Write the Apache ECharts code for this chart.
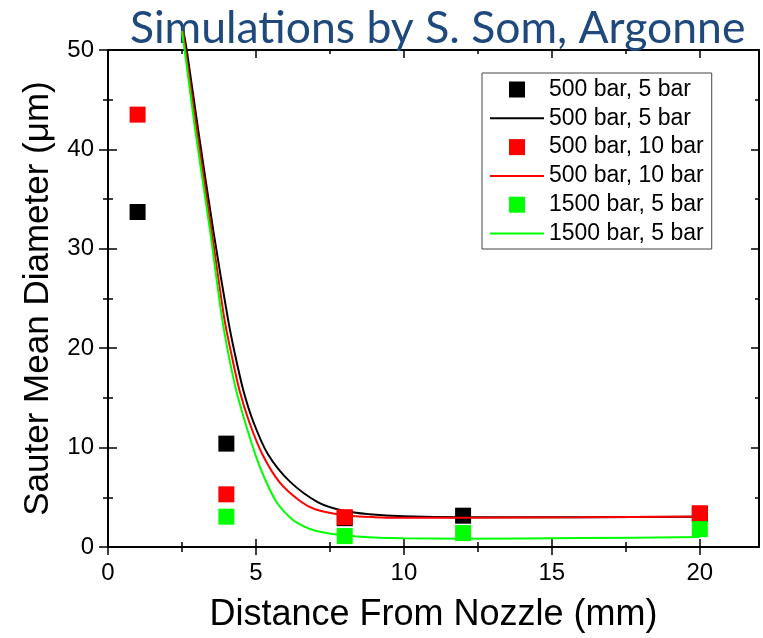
<!DOCTYPE html>
<html>
<head>
<meta charset="utf-8">
<script src="https://cdn.jsdelivr.net/npm/echarts@6/dist/echarts.min.js"></script>
<style>
  html, body { margin: 0; padding: 0; background: #fff; }
  #chart { width: 763px; height: 638px; }
</style>
</head>
<body>
<div id="chart"></div>
<script>
// Measured droplet size (squares) by case
const blackPoints = [[1, 33.7], [4, 10.4], [8, 2.9], [12, 3.15], [20, 3.3]];
const redPoints   = [[1, 43.5], [4, 5.3], [8, 3.0], [20, 3.4]];
const greenPoints = [[4, 3.05], [8, 1.1], [12, 1.4], [20, 1.8]];

// Fitted decay curves
const blackCurve = [[2.55, 51.9], [2.66, 50], [3.05, 41.9], [3.56, 31.8], [4.05, 23.0], [4.29, 19.4],
  [4.57, 15.8], [4.91, 12.6], [5.41, 9.3], [6.14, 6.6], [7.1, 4.5], [8, 3.62], [8.84, 3.3],
  [10, 3.1], [12, 3.0], [16, 3.0], [20, 3.05]];
const redCurve = [[2.53, 51.9], [2.62, 50], [3.0, 41.9], [3.5, 31.8], [3.93, 23.0], [4.17, 19.4],
  [4.44, 15.8], [4.77, 12.6], [5.22, 9.3], [5.8, 6.5], [6.5, 4.6], [7, 3.8], [8, 3.2],
  [9, 3.0], [10, 2.95], [12, 2.95], [16, 3.0], [20, 3.07]];
const greenCurve = [[2.5, 51.9], [2.59, 50], [2.95, 41.9], [3.45, 31.8], [3.84, 23.3], [4.07, 19.4],
  [4.33, 15.8], [4.63, 12.6], [4.98, 9.3], [5.3, 6.86], [5.7, 4.5], [6.2, 2.84], [6.6, 2.1],
  [7.05, 1.6], [8, 1.15], [9, 0.95], [10, 0.88], [12, 0.83], [16, 0.9], [20, 1.0]];

// Axis ticks
const xMajor = [0, 5, 10, 15, 20];
const xMinor = [2.5, 7.5, 12.5, 17.5];
const yMajor = [0, 10, 20, 30, 40, 50];

const seriesNames = ['500 bar, 5 bar', '500 bar, 10 bar', '1500 bar, 5 bar'];
const colors = ['#000000', '#ff0000', '#00ff00'];

const FONT = '"Liberation Sans", Arial, sans-serif';
const X_MIN = 0, X_MAX = 22, Y_MIN = 0, Y_MAX = 50;
const SQUARE_ICON = 'path://M0,0L16,0L16,16L0,16Z';

function xAxisBase(position, opts) {
  return Object.assign({
    type: 'value', position: position, min: X_MIN, max: X_MAX,
    axisLine: { show: false },
    splitLine: { show: false },
    axisLabel: { show: false },
    axisTick: { show: false }
  }, opts);
}
function yAxisBase(position, opts) {
  return Object.assign({
    type: 'value', position: position, min: Y_MIN, max: Y_MAX, interval: 10,
    axisLine: { show: false },
    splitLine: { show: false },
    axisLabel: { show: false },
    axisTick: { show: false }
  }, opts);
}
const tickStyle = { color: '#000', width: 1.5 };

const chart = echarts.init(document.getElementById('chart'), null, { renderer: 'canvas' });

const scatterSeries = [blackPoints, redPoints, greenPoints];
const curveSeries = [blackCurve, redCurve, greenCurve];
const series = [];
for (let i = 0; i < 3; i++) {
  series.push({
    name: seriesNames[i] + ' ',
    type: 'scatter',
    data: scatterSeries[i],
    symbol: 'rect',
    symbolSize: 16,
    itemStyle: { color: colors[i], opacity: 1 },
    z: 3 + i * 2,
    clip: false,
    silent: true
  });
  series.push({
    name: seriesNames[i],
    type: 'line',
    data: curveSeries[i],
    smooth: 0.3,
    symbol: 'none',
    showSymbol: false,
    lineStyle: { color: colors[i], width: 2 },
    itemStyle: { color: colors[i] },
    z: 4 + i * 2,
    clip: false,
    silent: true
  });
}

// Legend entries: square marker rows and plain line rows
const legendData = [];
for (let i = 0; i < 3; i++) {
  legendData.push({ name: seriesNames[i] + ' ', icon: SQUARE_ICON });
  legendData.push({ name: seriesNames[i], itemStyle: { opacity: 0 }, lineStyle: { width: 2 } });
}

chart.setOption({
  animation: false,
  backgroundColor: '#fff',
  title: {
    text: 'Simulations by S. Som, Argonne',
    left: 125,
    top: 1,
    textStyle: { fontFamily: 'Lato, "Open Sans", sans-serif', fontWeight: 'normal', fontSize: 44.5, color: '#1f497d' }
  },
  grid: { left: 108, right: 4, top: 50, bottom: 90, containLabel: false },
  legend: {
    orient: 'vertical',
    left: 482, top: 73,
    padding: [5, 8, 4, 7],
    itemGap: 5.8,
    itemWidth: 54,
    itemHeight: 16,
    symbolKeepAspect: true,
    borderColor: '#444',
    borderWidth: 1,
    backgroundColor: '#fff',
    lineStyle: { width: 2 },
    textStyle: { fontFamily: FONT, fontSize: 23, color: '#000', lineHeight: 23 },
    formatter: function (n) { return n.trim(); },
    data: legendData
  },
  xAxis: [
    xAxisBase('bottom', {
      axisLine: { show: true, onZero: false, lineStyle: { color: '#000', width: 2 } },
      axisTick: { show: true, inside: false, length: 8, lineStyle: tickStyle, customValues: xMajor },
      axisLabel: { show: true, customValues: xMajor, margin: 14, fontFamily: FONT, fontSize: 24, color: '#000' },
      name: 'Distance From Nozzle (mm)',
      nameLocation: 'middle',
      nameGap: 50,
      nameTextStyle: { fontFamily: FONT, fontSize: 36, color: '#000' }
    }),
    xAxisBase('bottom', { axisTick: { show: true, inside: true, length: 8, lineStyle: tickStyle, customValues: xMajor } }),
    xAxisBase('bottom', { axisTick: { show: true, inside: false, length: 5, lineStyle: tickStyle, customValues: xMinor } }),
    xAxisBase('bottom', { axisTick: { show: true, inside: true, length: 5, lineStyle: tickStyle, customValues: xMinor } }),
    xAxisBase('top', {
      axisLine: { show: true, onZero: false, lineStyle: { color: '#000', width: 2 } },
      axisTick: { show: true, inside: true, length: 8, lineStyle: tickStyle, customValues: xMajor }
    }),
    xAxisBase('top', { axisTick: { show: true, inside: true, length: 4, lineStyle: tickStyle, customValues: xMinor } })
  ],
  yAxis: [
    yAxisBase('left', {
      axisLine: { show: true, onZero: false, lineStyle: { color: '#000', width: 2 } },
      axisTick: { show: true, inside: false, length: 9, lineStyle: tickStyle, customValues: yMajor },
      minorTick: { show: true, splitNumber: 2, length: 5, lineStyle: tickStyle },
      axisLabel: { show: true, customValues: yMajor, margin: 14, fontFamily: FONT, fontSize: 24, color: '#000' },
      name: 'Sauter Mean Diameter (\u03bcm)',
      nameLocation: 'middle',
      nameGap: 52,
      nameTextStyle: { fontFamily: FONT, fontSize: 35, color: '#000' }
    }),
    yAxisBase('left', {
      axisTick: { show: true, inside: true, length: 9, lineStyle: tickStyle, customValues: yMajor },
      minorTick: { show: true, splitNumber: 2, length: 5, lineStyle: tickStyle }
    }),
    yAxisBase('right', {
      axisLine: { show: true, onZero: false, lineStyle: { color: '#000', width: 2 } },
      axisTick: { show: true, inside: true, length: 8, lineStyle: tickStyle, customValues: yMajor },
      minorTick: { show: true, splitNumber: 2, length: 4, lineStyle: tickStyle }
    })
  ],
  series: series
});
</script>
</body>
</html>
